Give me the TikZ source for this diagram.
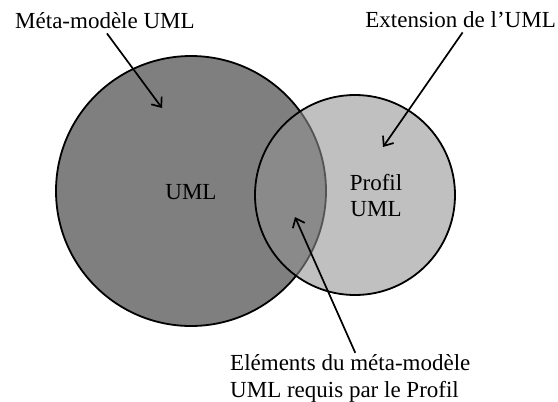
\documentclass[tikz,border=0pt]{standalone}
\usepackage{fontspec}
\setmainfont{Liberation Serif}
\usepackage{tikz}
\usetikzlibrary{arrows.meta, positioning}
\definecolor{umlgray}{RGB}{127,127,127}
\definecolor{profilgray}{RGB}{146,146,146}
\tikzset{
  x=1pt, y=-1pt,
  >={Straight Barb[length=8pt, width=13pt]},
  every node/.style={font=\fontsize{23}{26}\selectfont, inner sep=1pt},
  umlcircle/.style={draw=black, line width=1.8pt, fill=umlgray},
  profilcircle/.style={draw=black, line width=1.8pt, fill=profilgray, fill opacity=0.58},
  pointer/.style={->, line width=1.7pt},
}

\begin{document}
\begin{tikzpicture}
        \useasboundingbox (0,0) rectangle (558,402);

        % circles
        \draw[umlcircle] (191,191) circle[radius=135];
        \draw[profilcircle] (355,195) circle[radius=100];

        % labels
        \node (uml) at (191,192) {UML};
        \node[align=center] (profil) at (376,196) {Profil\\UML};
        \node[anchor=base west] (meta) at (14,28) {Méta-modèle UML};
        \node[anchor=base east] (ext) at (557,27) {Extension de l’UML};
        \node[anchor=base west, align=left, font=\fontsize{23}{27}\selectfont] (elem) at (229,397)
             {Eléments du méta-modèle\\UML requis par le Profil};

        % arrow tips
        \coordinate (tipMeta) at (162,108);
        \coordinate (tipExt) at (383,147);
        \coordinate (tipElem) at (295,217);

        % arrows
        \draw[pointer] (meta.south) ++(2,4) -- (tipMeta);
        \draw[pointer] (ext.south) ++(2,4) -- (tipExt);
        \draw[pointer] ([xshift=5pt]elem.north) -- (tipElem);
\end{tikzpicture}
\end{document}
